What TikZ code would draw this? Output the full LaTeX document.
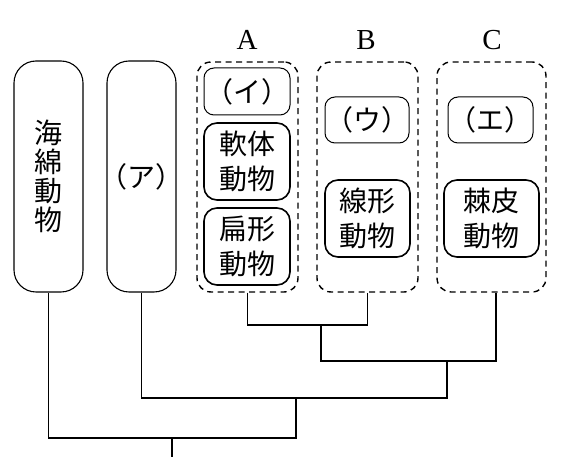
\documentclass[tikz,border=0pt]{standalone}
\usepackage{fontspec}
\setmainfont{Liberation Serif}
\newfontfamily\jpfont{Noto Sans CJK JP}
\usetikzlibrary{positioning}

\tikzset{
  tallbox/.style={draw, line width=1.1pt, rounded corners=22pt, minimum width=69pt,
    minimum height=231pt, inner sep=0pt, align=center,
    font=\jpfont\fontsize{28}{29}\selectfont},
  groupbox/.style={draw, dash pattern=on 6pt off 4.5pt, line width=1.4pt,
    rounded corners=14pt, minimum height=230pt, inner sep=0pt},
  namebox/.style={draw, line width=1pt, rounded corners=10pt, minimum height=46pt,
    inner sep=0pt, font=\jpfont\fontsize{28}{34}\selectfont},
  taxonbox/.style={draw, line width=1.6pt, rounded corners=13pt, minimum height=77pt,
    inner sep=0pt, align=center, font=\jpfont\fontsize{28}{35}\selectfont},
  grouptag/.style={font=\fontsize{29}{29}\selectfont},
  tree/.style={line width=1.6pt}
}
\newcommand{\paren}[1]{\makebox[60pt]{（#1）}}

\begin{document}
\begin{tikzpicture}[x=1pt, y=-1pt]
  \useasboundingbox (0,0) rectangle (566,470);

  % outer groups
  \node[tallbox] (sponge) at (48.5,176.5) {海\\綿\\動\\物};
  \node[tallbox] (ana)    at (141.5,176.5) {\paren{ア}};

  % dashed groups A, B, C
  \node[groupbox, minimum width=101pt] (grpA) at (247.5,177) {};
  \node[groupbox, minimum width=101pt] (grpB) at (367.5,177) {};
  \node[groupbox, minimum width=109pt] (grpC) at (491.5,177) {};
  \node[grouptag] (tagA) at (247,40) {A};
  \node[grouptag] (tagB) at (366,40) {B};
  \node[grouptag] (tagC) at (492,40) {C};

  % group A
  \node[namebox, minimum width=86pt, minimum height=47pt] (boxI) at (247,91.5) {\paren{イ}};
  \node[taxonbox, minimum width=86pt] (mollusk)  at (247,161.5) {軟体\\動物};
  \node[taxonbox, minimum width=86pt] (flatworm) at (247,246.5) {扁形\\動物};

  % group B
  \node[namebox, minimum width=84pt] (boxU) at (367,120) {\paren{ウ}};
  \node[taxonbox, minimum width=85pt] (nematode) at (367.5,218.5) {線形\\動物};

  % group C
  \node[namebox, minimum width=85pt] (boxE) at (490.5,120) {\paren{エ}};
  \node[taxonbox, minimum width=95pt] (echino) at (491.5,218.5) {棘皮\\動物};

  % tree
  \coordinate (jAB)  at (321,325);
  \coordinate (jABC) at (447,361);
  \coordinate (jAna) at (296,398);
  \coordinate (root) at (172,438);
  \coordinate (base) at (172,457);
  \draw[tree] (grpA.south) |- (jAB) -| (grpB.south);
  \draw[tree] (jAB) |- (jABC) -| ([xshift=4.5pt]grpC.south);
  \draw[tree] (jABC) |- (jAna) -| (ana.south);
  \draw[tree] (jAna) |- (root) -| (sponge.south);
  \draw[tree] (root) -- (base);
\end{tikzpicture}
\end{document}
